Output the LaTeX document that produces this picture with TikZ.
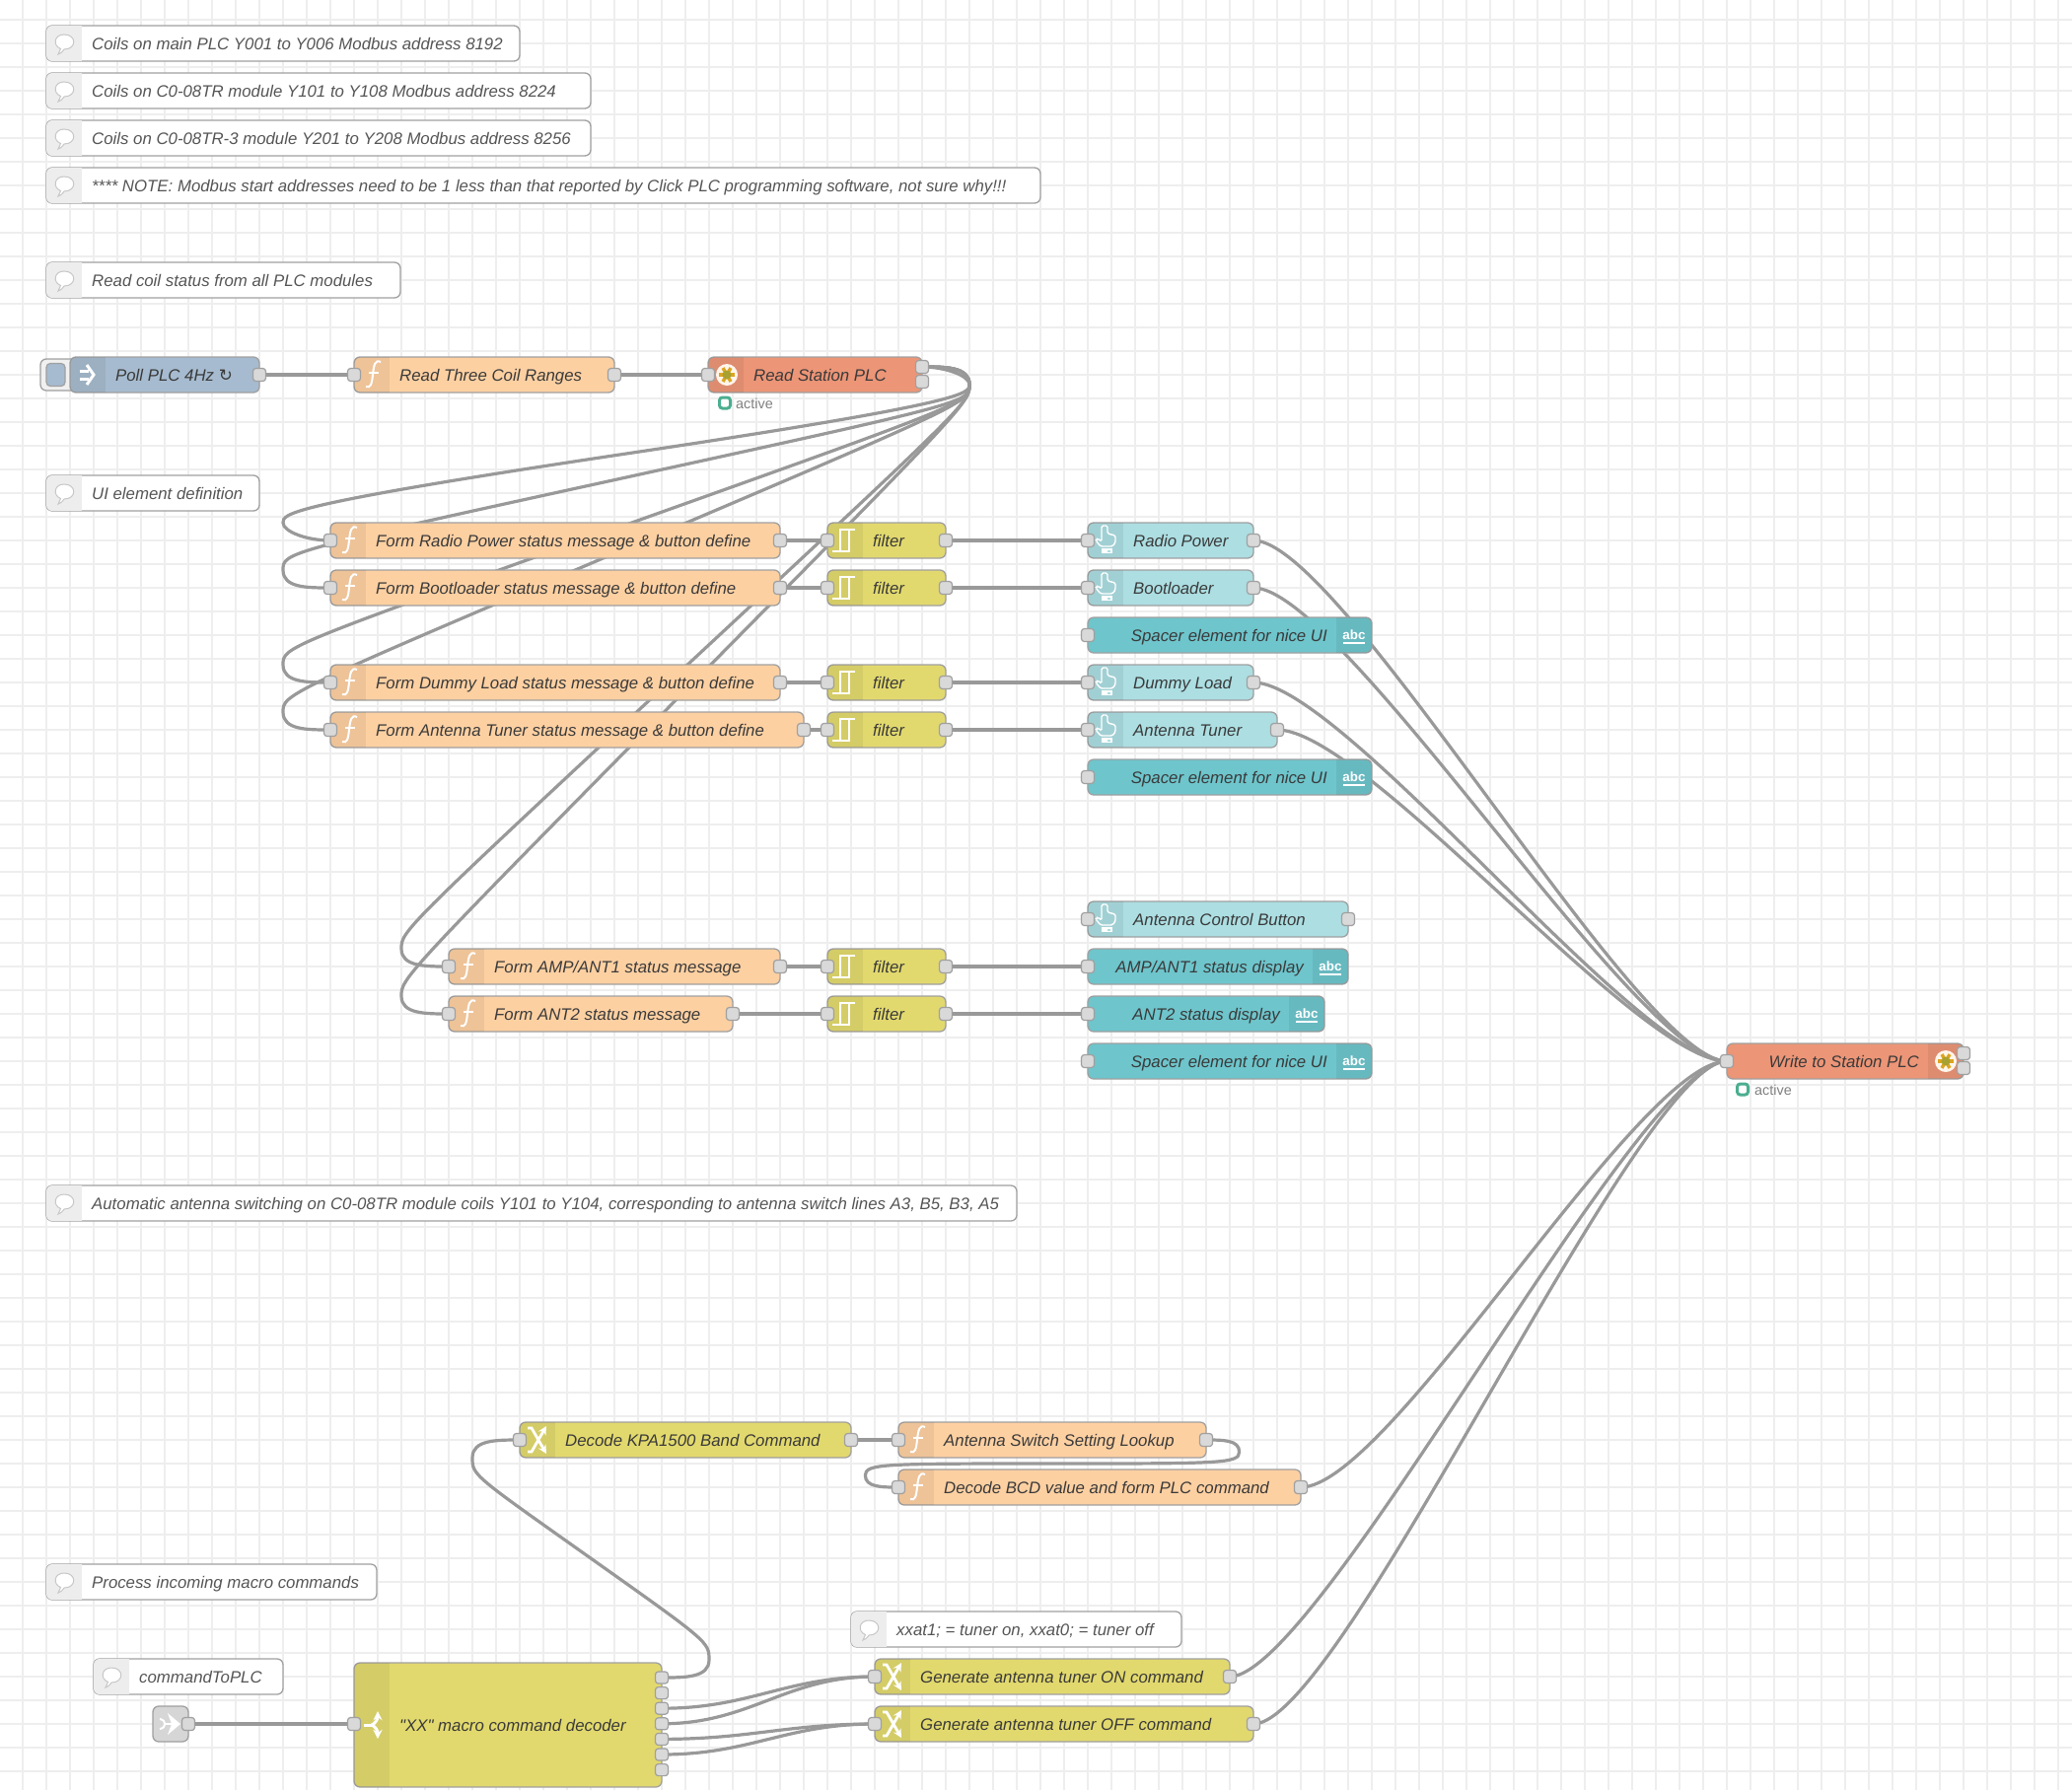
\documentclass[tikz,border=0pt]{standalone}
\usepackage{fontspec}
\setmainfont[Ligatures=TeXOff]{Liberation Sans}
\newfontfamily\symfont{DejaVu Sans}
\usetikzlibrary{backgrounds}

\definecolor{funcfill}{HTML}{FDD0A2}
\definecolor{plcfill}{HTML}{EC9577}
\definecolor{injectfill}{HTML}{A6BBCF}
\definecolor{filterfill}{HTML}{E2D96E}
\definecolor{btnfill}{HTML}{ACDEE2}
\definecolor{textfill}{HTML}{6EC5CC}
\definecolor{linkfill}{HTML}{D6D6D6}
\definecolor{edgegrey}{HTML}{A0A0A0}
\definecolor{wiregrey}{HTML}{999999}
\definecolor{portgrey}{HTML}{D9D9D9}
\definecolor{gridgrey}{HTML}{EEEEEE}
\definecolor{labelgrey}{HTML}{3A3A3A}
\definecolor{cmtgrey}{HTML}{555555}
\definecolor{statusgreen}{HTML}{4BAE90}
\definecolor{stargold}{HTML}{DDA520}
\definecolor{starolive}{HTML}{A8A030}

\tikzset{
  flowbody/.style={draw=edgegrey,line width=1.3pt,outer sep=0pt,rounded corners=6pt,minimum height=36pt,inner sep=0pt},
  flowtext/.style={inner sep=0pt,text height=14pt,text depth=1pt,text=labelgrey,font=\fontsize{16.8}{20}\selectfont\itshape},
  port/.style={draw=edgegrey,fill=portgrey,line width=1.2pt,rounded corners=3pt,minimum size=13pt,inner sep=0pt},
  wire/.style={draw=wiregrey,line width=3.2pt},
  gridline/.style={draw=gridgrey,line width=1.2pt},
  iconline/.style={draw=white,line width=2pt},
  statusring/.style={draw=statusgreen,fill=white,line width=3pt,rounded corners=3pt,minimum size=11pt,inner sep=0pt},
  statustext/.style={inner sep=0pt,anchor=west,text=gray,font=\fontsize{14.4}{16}\selectfont},
  abctext/.style={inner sep=0pt,text=white,font=\fontsize{13.4}{15}\bfseries\selectfont}
}

% node with the icon band on its left
\newcommand{\flownode}[6]{
  \node[flowbody,fill=#2,anchor=west,minimum width={(#4-#3)*1pt}] (#1) at (#3,#5) {};
  \begin{scope}[shift={(#1.west)}]
    \clip[rounded corners=6pt] (0,-18) rectangle (50,18);
    \fill[black,opacity=.06] (0,-18) rectangle (36,18);
  \end{scope}
  \node[flowtext,anchor=west] (#1-t) at (#3+46,#5) {#6};
}
% node with the icon band on its right
\newcommand{\flownoderight}[6]{
  \node[flowbody,fill=#2,anchor=west,minimum width={(#4-#3)*1pt}] (#1) at (#3,#5) {};
  \begin{scope}[shift={(#1.east)}]
    \clip[rounded corners=6pt] (-50,-18) rectangle (0,18);
    \fill[black,opacity=.06] (-36,-18) rectangle (0,18);
  \end{scope}
  \node[flowtext,anchor=east] (#1-t) at (#4-45,#5) {#6};
}
\newcommand{\inport}[1]{\node[port] (#1-i) at (#1.west) {};}
\newcommand{\outport}[1]{\node[port] (#1-o) at (#1.east) {};}
\newcommand{\ports}[1]{\inport{#1}\outport{#1}}
\newcommand{\wire}[2]{\draw[wire] (#1.center) .. controls +(90,0) and +(-90,0) .. (#2.center);}

% comment box
\newcommand{\cmt}[5]{
  \node[flowbody,fill=white,anchor=west,minimum width={(#3-#2)*1pt}] (#1) at (#2,#4) {};
  \begin{scope}[shift={(#1.west)}]
    \begin{scope}
      \clip[rounded corners=6pt] (0,-18) rectangle (50,18);
      \fill[black!7] (0,-18) rectangle (36,18);
    \end{scope}
    \draw[black!22,fill=white,line width=1pt] (12,11) -- (14.5,5.5) .. controls (6,2) and (8,-9) .. (18,-9)
      .. controls (31,-9) and (31,6) .. (18,6) .. controls (16,9) and (14,10.5) .. (12,11) -- cycle;
  \end{scope}
  \node[flowtext,anchor=west,text=cmtgrey] (#1-t) at (#2+46,#4) {#5};
}

% icons
\newcommand{\fnicon}[1]{
  \begin{scope}[shift={(#1.west)}]
    \draw[iconline] (12,12) .. controls (17,14) and (18,9) .. (19,0) .. controls (20,-9) and (21,-16) .. (27,-13);
    \draw[iconline] (15,-2) -- (25,-2);
  \end{scope}
}
\newcommand{\filtericon}[1]{
  \begin{scope}[shift={(#1.west)}]
    \draw[iconline] (5,11) -- (22,11) -- (22,-11);
    \draw[iconline] (13,11) -- (13,-11) -- (28,-11);
  \end{scope}
}
\newcommand{\handicon}[1]{
  \begin{scope}[shift={(#1.west)}]
    \draw[iconline,line width=1.4pt,rounded corners=1.5pt] (14,-15) -- (20,-15) -- (20,-7) -- (28,-5) -- (28,2)
      -- (25,6) -- (13,6) -- (8,0) -- (10,-2) -- (14,1) -- cycle;
    \fill[white] (14,8) rectangle (25,13);
    \fill[btnfill] (20,9.5) rectangle (23,11.5);
  \end{scope}
}
\newcommand{\changeicon}[1]{
  \begin{scope}[shift={(#1.west)},>=stealth]
    \draw[iconline,line width=2.8pt,->] (8,-12) -- (12,-12) -- (27,14);
    \draw[iconline,line width=2.8pt,->] (8,12) -- (12,12) -- (27,-14);
  \end{scope}
}
\newcommand{\plcicon}[1]{
  \begin{scope}[shift={(#1)}]
    \fill[orange!8] (0,0) circle (11);
    \foreach \ang in {0,60,...,300}
      \draw[stargold,line width=3.4pt] (0,0) -- (\ang:8);
    \fill[starolive] (0,0) circle (4.5);
  \end{scope}
}
\newcommand{\abcicon}[1]{
  \node[abctext] (#1-a) at ([xshift=-18pt]#1.east) {abc};
  \draw[white,line width=2pt] ([xshift=-29pt,yshift=-7.5pt]#1.east) -- ([xshift=-7pt,yshift=-7.5pt]#1.east);
}

\begin{document}
\begin{tikzpicture}[x=1pt,y=-1pt]
  \useasboundingbox (0,0) rectangle (2101,1815);

  % comments
  \cmt{cmtmain}{47}{527}{44}{Coils on main PLC Y001 to Y006 Modbus address 8192}
  \cmt{cmttr}{47}{599}{92}{Coils on C0-08TR module Y101 to Y108 Modbus address 8224}
  \cmt{cmttrthree}{47}{599}{140}{Coils on C0-08TR-3 module Y201 to Y208 Modbus address 8256}
  \cmt{cmtnote}{47}{1055}{188}{**** NOTE: Modbus start addresses need to be 1 less than that reported by Click PLC programming software, not sure why!!!}
  \cmt{cmtread}{47}{406}{284}{Read coil status from all PLC modules}
  \cmt{cmtui}{47}{263}{500}{UI element definition}
  \cmt{cmtauto}{47}{1031}{1220}{Automatic antenna switching on C0-08TR module coils Y101 to Y104, corresponding to antenna switch lines A3, B5, B3, A5}
  \cmt{cmtmacro}{47}{382}{1604}{Process incoming macro commands}
  \cmt{cmtcmd}{95}{287}{1700}{commandToPLC}
  \cmt{cmtxx}{863}{1198}{1652}{xxat1; = tuner on, xxat0; = tuner off}

  % poll and read
  \draw[edgegrey,fill=gray!12,line width=1.3pt,rounded corners=6pt] (80,364) -- (41,364) -- (41,396) -- (80,396);
  \node[draw=edgegrey,fill=injectfill,line width=1.2pt,rounded corners=4pt,minimum width=19pt,minimum height=23pt,inner sep=0pt] (pollbtn) at (56.5,380) {};
  \flownode{poll}{injectfill}{71}{263}{380}{Poll PLC 4Hz {\symfont ↻}}
  \outport{poll}
  \begin{scope}[shift={(poll.west)}]
    \draw[iconline,line width=3pt] (10,-4) -- (19,-4) (10,4) -- (19,4);
    \draw[iconline,line width=3pt] (17,-10) -- (24,0) -- (17,10);
  \end{scope}
  \flownode{coils}{funcfill}{359}{623}{380}{Read Three Coil Ranges}
  \ports{coils}\fnicon{coils}
  \flownode{station}{plcfill}{718}{935}{380}{Read Station PLC}
  \inport{station}\plcicon{737,380}
  \node[port] (station-oa) at (935,372) {};
  \node[port] (station-ob) at (935,387) {};
  \node[statusring] (station-r) at (735,408.5) {};
  \node[statustext] (station-s) at (746,409) {active};

  % status functions
  \flownode{fradio}{funcfill}{335}{791}{548}{Form Radio Power status message \& button define}
  \flownode{fboot}{funcfill}{335}{791}{596}{Form Bootloader status message \& button define}
  \flownode{fdummy}{funcfill}{335}{791}{692}{Form Dummy Load status message \& button define}
  \flownode{ftuner}{funcfill}{335}{815}{740}{Form Antenna Tuner status message \& button define}
  \flownode{famp}{funcfill}{455}{791}{980}{Form AMP/ANT1 status message}
  \flownode{fant}{funcfill}{455}{743}{1028}{Form ANT2 status message}
  \foreach \nd in {fradio,fboot,fdummy,ftuner,famp,fant} {\ports{\nd}\fnicon{\nd}}

  % filters
  \flownode{fltradio}{filterfill}{839}{959}{548}{filter}
  \flownode{fltboot}{filterfill}{839}{959}{596}{filter}
  \flownode{fltdummy}{filterfill}{839}{959}{692}{filter}
  \flownode{flttuner}{filterfill}{839}{959}{740}{filter}
  \flownode{fltamp}{filterfill}{839}{959}{980}{filter}
  \flownode{fltant}{filterfill}{839}{959}{1028}{filter}
  \foreach \nd in {fltradio,fltboot,fltdummy,flttuner,fltamp,fltant} {\ports{\nd}\filtericon{\nd}}

  % dashboard elements
  \flownode{radio}{btnfill}{1103}{1271}{548}{Radio Power}
  \flownode{boot}{btnfill}{1103}{1271}{596}{Bootloader}
  \flownode{dummy}{btnfill}{1103}{1271}{692}{Dummy Load}
  \flownode{tuner}{btnfill}{1103}{1295}{740}{Antenna Tuner}
  \flownode{antbtn}{btnfill}{1103}{1367}{932}{Antenna Control Button}
  \foreach \nd in {radio,boot,dummy,tuner,antbtn} {\ports{\nd}\handicon{\nd}}
  \flownoderight{spacea}{textfill}{1103}{1391}{644}{Spacer element for nice UI}
  \flownoderight{spaceb}{textfill}{1103}{1391}{788}{Spacer element for nice UI}
  \flownoderight{ampdisp}{textfill}{1103}{1367}{980}{AMP/ANT1 status display}
  \flownoderight{antdisp}{textfill}{1103}{1343}{1028}{ANT2 status display}
  \flownoderight{spacec}{textfill}{1103}{1391}{1076}{Spacer element for nice UI}
  \foreach \nd in {spacea,spaceb,ampdisp,antdisp,spacec} {\inport{\nd}\abcicon{\nd}}

  % write
  \flownoderight{write}{plcfill}{1751}{1991}{1076}{Write to Station PLC}
  \inport{write}\plcicon{1973,1076}
  \node[port] (write-oa) at (1991,1068) {};
  \node[port] (write-ob) at (1991,1083) {};
  \node[statusring] (write-r) at (1767,1104.5) {};
  \node[statustext] (write-s) at (1779,1105) {active};

  % band decoding
  \flownode{kpa}{filterfill}{527}{863}{1460}{Decode KPA1500 Band Command}
  \ports{kpa}\changeicon{kpa}
  \flownode{lookup}{funcfill}{911}{1223}{1460}{Antenna Switch Setting Lookup}
  \ports{lookup}\fnicon{lookup}
  \flownode{bcd}{funcfill}{911}{1319}{1508}{Decode BCD value and form PLC command}
  \ports{bcd}\fnicon{bcd}
  \flownode{genon}{filterfill}{887}{1247}{1700}{Generate antenna tuner ON command}
  \flownode{genoff}{filterfill}{887}{1271}{1748}{Generate antenna tuner OFF command}
  \foreach \nd in {genon,genoff} {\ports{\nd}\changeicon{\nd}}

  % macro decoder
  \node[flowbody,fill=filterfill,anchor=west,minimum width=312pt,minimum height=126pt] (decoder) at (359,1749) {};
  \begin{scope}[shift={(decoder.west)}]
    \clip[rounded corners=6pt] (0,-63) rectangle (50,63);
    \fill[black,opacity=.06] (0,-63) rectangle (36,63);
  \end{scope}
  \node[flowtext,anchor=west] (decoder-t) at (405,1749) {"XX" macro command decoder};
  \node[port] (decoder-i) at (359,1748) {};
  \foreach \i in {1,...,7}
    \node[port,minimum height=12pt] (decoder-o\i) at (671,1685.4+\i*15.6) {};
  \begin{scope}[shift={(decoder.west)},>=stealth]
    \draw[iconline,line width=3pt] (10,0) -- (18,0);
    \draw[iconline,line width=3pt,->] (18,0) .. controls (22,-2) and (24,-6) .. (24,-14);
    \draw[iconline,line width=3pt,->] (18,0) .. controls (22,2) and (24,6) .. (24,14);
  \end{scope}
  \node[flowbody,fill=linkfill,minimum width=36pt] (linkin) at (173,1748) {};
  \outport{linkin}
  \begin{scope}[shift={(linkin.west)}]
    \fill[white] (15,-11) -- (28,0) -- (15,11) -- (19,0) -- cycle;
    \draw[iconline] (7,-5) .. controls (14,-4) and (14,4) .. (7,5);
    \draw[iconline] (13,0) -- (19,0);
  \end{scope}

  \begin{scope}[on background layer]
    \foreach \gx in {23,47,...,2099} \draw[gridline] (\gx,0) -- (\gx,1815);
    \foreach \gy in {20,44,...,1815} \draw[gridline] (0,\gy) -- (2101,\gy);

    \wire{poll-o}{coils-i}
    \wire{coils-o}{station-i}
    \wire{fradio-o}{fltradio-i}
    \wire{fboot-o}{fltboot-i}
    \wire{fdummy-o}{fltdummy-i}
    \wire{ftuner-o}{flttuner-i}
    \wire{famp-o}{fltamp-i}
    \wire{fant-o}{fltant-i}
    \wire{fltradio-o}{radio-i}
    \wire{fltboot-o}{boot-i}
    \wire{fltdummy-o}{dummy-i}
    \wire{flttuner-o}{tuner-i}
    \wire{fltamp-o}{ampdisp-i}
    \wire{fltant-o}{antdisp-i}
    \wire{radio-o}{write-i}
    \wire{boot-o}{write-i}
    \wire{dummy-o}{write-i}
    \wire{tuner-o}{write-i}
    \wire{bcd-o}{write-i}
    \wire{genon-o}{write-i}
    \wire{genoff-o}{write-i}
    \wire{kpa-o}{lookup-i}
    \wire{linkin-o}{decoder-i}
    \wire{decoder-o3}{genon-i}
    \wire{decoder-o4}{genon-i}
    \wire{decoder-o5}{genoff-i}
    \wire{decoder-o6}{genoff-i}

    % wires that run back to the left
    \draw[wire] (station-oa.center) .. controls (959,372) and (983,381) .. (983,390) .. controls (983,399) and (983,408) .. (635,460)
      .. controls (287,512) and (287,521) .. (287,530) .. controls (287,539) and (311,548) .. (fradio-i.center);
    \draw[wire] (station-oa.center) .. controls (959,372) and (983,372) .. (983,390) .. controls (983,408) and (983,408) .. (635,484)
      .. controls (287,560) and (287,560) .. (287,578) .. controls (287,596) and (311,596) .. (fboot-i.center);
    \draw[wire] (station-oa.center) .. controls (959,372) and (983,372) .. (983,390) .. controls (983,408) and (983,408) .. (635,532)
      .. controls (287,656) and (287,656) .. (287,674) .. controls (287,692) and (311,692) .. (fdummy-i.center);
    \draw[wire] (station-oa.center) .. controls (959,372) and (983,372) .. (983,390) .. controls (983,408) and (983,408) .. (635,556)
      .. controls (287,704) and (287,704) .. (287,722) .. controls (287,740) and (311,740) .. (ftuner-i.center);
    \draw[wire] (station-oa.center) .. controls (959,372) and (983,372) .. (983,390) .. controls (983,408) and (983,408) .. (695,676)
      .. controls (407,944) and (407,944) .. (407,962) .. controls (407,980) and (431,980) .. (famp-i.center);
    \draw[wire] (station-oa.center) .. controls (959,372) and (983,372) .. (983,390) .. controls (983,408) and (983,408) .. (695,700)
      .. controls (407,992) and (407,992) .. (407,1010) .. controls (407,1028) and (431,1028) .. (fant-i.center);
    \draw[wire] (decoder-o1.center) .. controls (695,1701) and (719,1701) .. (719,1683) .. controls (719,1665) and (719,1665) .. (599,1580)
      .. controls (479,1495) and (479,1496) .. (479,1478) .. controls (479,1460) and (503,1460) .. (kpa-i.center);
    \draw[wire] (lookup-o.center) .. controls (1239.8,1460) and (1256.6,1460) .. (1256.6,1472) .. controls (1256.6,1484) and (1239.8,1484) .. (1067,1484)
      .. controls (894.2,1484) and (877.4,1484) .. (877.4,1496) .. controls (877.4,1508) and (894.2,1508) .. (bcd-i.center);
  \end{scope}
\end{tikzpicture}
\end{document}
